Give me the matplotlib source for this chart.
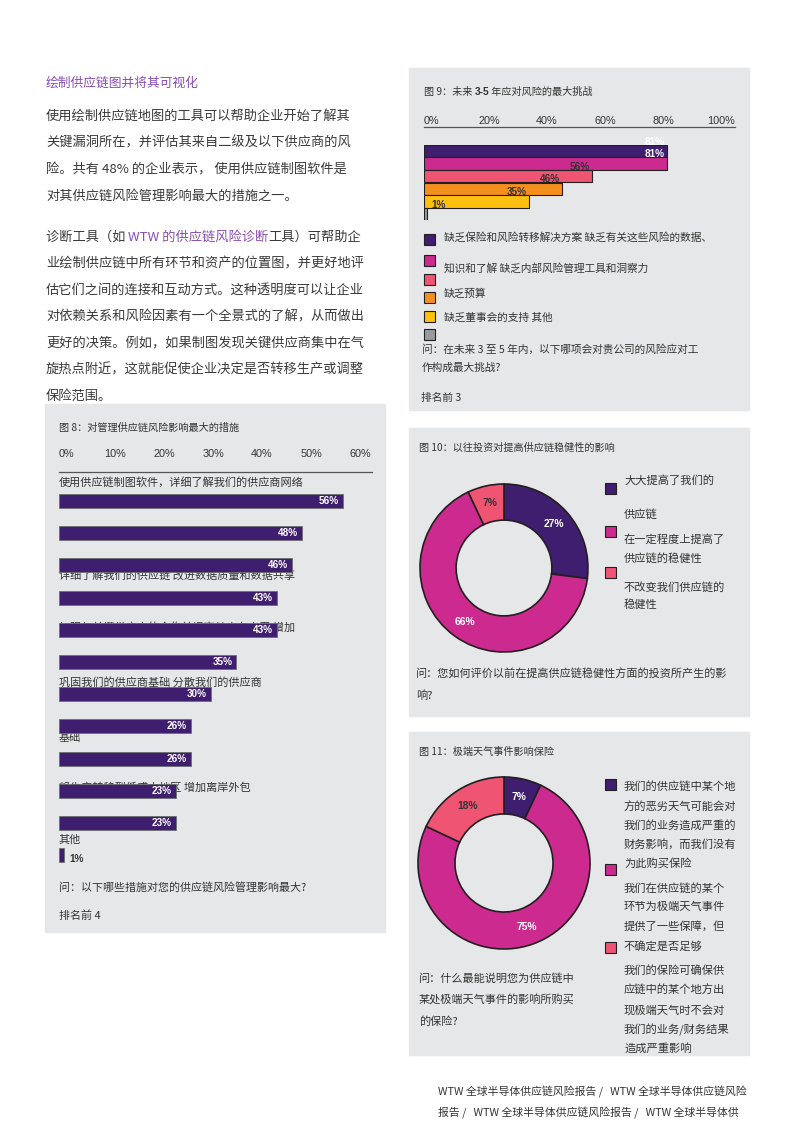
import matplotlib.pyplot as plt
from matplotlib.patches import Rectangle

W, H = 794, 1123
CJK = ['Noto Sans CJK SC', 'DejaVu Sans']
plt.rcParams['font.family'] = CJK

PURPLE = '#3f1d6f'
PINK = '#cc2a8e'
CORAL = '#ef5473'
ORANGE = '#f5901f'
YELLOW = '#fdc010'
GREY = '#999b9e'
PANEL = '#e6e7e8'
INK = '#333333'
EDGE = '#231f20'
LINK = '#8a4db3'

# ---- left column text
heading = '绘制供应链图并将其可视化'
para1 = [
    '使用绘制供应链地图的工具可以帮助企业开始了解其',
    '关键漏洞所在，并评估其来自二级及以下供应商的风',
    '险。共有 48% 的企业表示， 使用供应链制图软件是',
    '对其供应链风险管理影响最大的措施之一。',
]
para2_first = ['诊断工具（如 ', 'WTW 的供应链风险诊断', '工具）可帮助企']
para2 = [
    '业绘制供应链中所有环节和资产的位置图，并更好地评',
    '估它们之间的连接和互动方式。这种透明度可以让企业',
    '对依赖关系和风险因素有一个全景式的了解，从而做出',
    '更好的决策。例如，如果制图发现关键供应商集中在气',
    '旋热点附近，这就能促使企业决定是否转移生产或调整',
    '保险范围。',
]

# ---- figure 8
fig8_values = [56, 48, 46, 43, 43, 35, 30, 26, 26, 23, 23, 1]
fig8_ticks = [0, 10, 20, 30, 40, 50, 60]
fig8_labels = [
    '使用供应链制图软件，详细了解我们的供应商网络',
    '增加关键供应商的安全库存',
    '详细了解我们的供应链 改进数据质量和数据共享',
    '加强与关键供应商的合作并提高其库存水平 增加',
    '巩固我们的供应商基础 分散我们的供应商',
    '基础',
    '将生产转移到低成本地区 增加离岸外包',
    '其他',
]
fig8_label_rows = [-0.59, 1.05, 2.30, 3.91, 5.65, 7.36, 8.91, 10.53]

# ---- figure 9
fig9_values = [81, 81, 56, 46, 35, 1]
fig9_colors = [PURPLE, PINK, CORAL, ORANGE, YELLOW, GREY]
fig9_label_colors = ['white', 'white', INK, INK, INK, INK]
fig9_ticks = [0, 20, 40, 60, 80, 100]
fig9_legend = [
    '缺乏保险和风险转移解决方案 缺乏有关这些风险的数据、',
    '知识和了解 缺乏内部风险管理工具和洞察力',
    '缺乏预算',
    '缺乏董事会的支持 其他',
]

# ---- figure 10
fig10_values = [27, 66, 7]
fig10_colors = [PURPLE, PINK, CORAL]
fig10_label_colors = ['white', 'white', INK]
fig10_legend = ['大大提高了我们的', '供应链', '在一定程度上提高了',
                '供应链的稳健性', '不改变我们供应链的', '稳健性']

# ---- figure 11
fig11_values = [7, 75, 18]
fig11_colors = [PURPLE, PINK, CORAL]
fig11_label_colors = ['white', 'white', INK]
fig11_legend = [
    '我们的供应链中某个地', '方的恶劣天气可能会对', '我们的业务造成严重的',
    '财务影响，而我们没有', '为此购买保险',
    '我们在供应链的某个', '环节为极端天气事件', '提供了一些保障，但', '不确定是否足够',
    '我们的保险可确保供', '应链中的某个地方出', '现极端天气时不会对',
    '我们的业务/财务结果', '造成严重影响',
]

footer = [
    'WTW 全球半导体供应链风险报告 /   WTW 全球半导体供应链风险',
    '报告 /   WTW 全球半导体供应链风险报告 /   WTW 全球半导体供',
]

fig = plt.figure(figsize=(W / 100, H / 100), dpi=100)
page = fig.add_axes([0, 0, 1, 1])
page.set_xlim(0, W)
page.set_ylim(H, 0)
page.axis('off')


def axes_px(x0, y0, x1, y1):
    ax = fig.add_axes([x0 / W, 1 - y1 / H, (x1 - x0) / W, (y1 - y0) / H])
    ax.set_facecolor('none')
    ax.axis('off')
    return ax


def txt(x, y, s, size=8, color=INK, **kw):
    return page.text(x, y, s, fontsize=size, color=color, va='center', ha='left', **kw)


def square(x, yc, color, size=11):
    page.add_patch(Rectangle((x, yc - size / 2), size, size, facecolor=color,
                             edgecolor=EDGE, lw=0.8, zorder=2))


# panels
for (x0, y0, x1, y1) in [(45, 404, 385, 932), (409, 68, 749, 410),
                         (409, 428, 749, 716), (409, 732, 749, 1055)]:
    page.add_patch(Rectangle((x0, y0), x1 - x0, y1 - y0, color=PANEL, zorder=0))

# left text
txt(46, 83, heading, 9.2, LINK)
for i, line in enumerate(para1):
    txt(46, 117 + 26.3 * i, line, 9.5, '#3a3a3a')
prev = txt(46, 237, para2_first[0], 9.5, '#3a3a3a')
for j, part in enumerate(para2_first[1:]):
    prev = page.annotate(part, xy=(1, 0.5), xycoords=prev, va='center', ha='left',
                         fontsize=9.5, color=LINK if j == 0 else '#3a3a3a')
for i, line in enumerate(para2):
    txt(46, 263.5 + 26.5 * i, line, 9.5, '#3a3a3a')

# ---- figure 8
txt(59, 428, '图 8：对管理供应链风险影响最大的措施', 7.3)
axt = axes_px(66, 446, 360, 462)
axt.set_xlim(0, 60)
for v in fig8_ticks:
    axt.text(v, 0.5, f'{v}%', transform=axt.get_xaxis_transform(), ha='center',
             va='center', fontsize=7.8, color=INK, family='Liberation Sans')
page.plot([59, 372], [472, 472], color='#555555', lw=0.9)

ax8 = axes_px(59, 484.9, 59 + 60 * 5.07, 871.3)
ax8.set_xlim(0, 60)
ax8.set_ylim(11.5, -0.5)
ax8.barh(range(len(fig8_values)), fig8_values, height=0.43, color=PURPLE,
         edgecolor='#6d6e71', lw=0.6, zorder=3)
for i, v in enumerate(fig8_values):
    if v > 5:
        ax8.annotate(f'{v}%', (v, i), xytext=(-3, 0), textcoords='offset points',
                     ha='right', va='center', color='white', fontweight='bold',
                     fontsize=7.2, family='Liberation Sans', zorder=4)
    else:
        ax8.annotate(f'{v}%', (v, i), xytext=(4, -3), textcoords='offset points',
                     ha='left', va='center', color=INK, fontweight='bold',
                     fontsize=7.2, family='Liberation Sans', zorder=4)
for lab, row in zip(fig8_labels, fig8_label_rows):
    ax8.text(0, row, lab, fontsize=8, color=INK, va='center', ha='left', zorder=1)
txt(59, 887, '问：以下哪些措施对您的供应链风险管理影响最大?', 7.9)
txt(59, 916, '排名前 4', 7.9)

# ---- figure 9
t = txt(424, 92, '图 9：未来 ', 7.3)
t = page.annotate('3-5', xy=(1, 0.5), xycoords=t, va='center', ha='left',
                  fontsize=7.3, color=INK, fontweight='bold', family='Liberation Sans')
page.annotate(' 年应对风险的最大挑战', xy=(1, 0.5), xycoords=t, va='center', ha='left',
              fontsize=7.3, color=INK)
axt9 = axes_px(431, 113, 721, 129)
axt9.set_xlim(0, 100)
for v in fig9_ticks:
    axt9.text(v, 0.5, f'{v}%', transform=axt9.get_xaxis_transform(), ha='center',
              va='center', fontsize=7.8, color=INK, family='Liberation Sans')
page.plot([424, 735], [127, 127], color='#555555', lw=0.9)

ax9 = axes_px(424, 144.7, 724, 220.3)
ax9.set_xlim(0, 100)
ax9.set_ylim(5.5, -0.5)
ax9.barh(range(len(fig9_values)), fig9_values, height=1.0, color=fig9_colors,
         edgecolor=EDGE, lw=0.8, zorder=3)
for i, (v, c) in enumerate(zip(fig9_values, fig9_label_colors)):
    if v > 5:
        ax9.annotate(f'{v}%', (v, i - 0.75), xytext=(-1.5, 0), textcoords='offset points',
                     ha='right', va='center', color=c, fontweight='bold',
                     fontsize=7.2, family='Liberation Sans', zorder=4,
                     annotation_clip=False)
    else:
        ax9.annotate(f'{v}%', (v, i - 0.72), xytext=(3, 0), textcoords='offset points',
                     ha='left', va='center', color=c, fontweight='bold',
                     fontsize=7.2, family='Liberation Sans', zorder=4,
                     annotation_clip=False)
for c, yc in zip(fig9_colors, [239, 260, 279, 297, 316, 334]):
    square(424, yc, c)
for lab, yy in zip(fig9_legend, [237, 268, 294, 318]):
    txt(444, yy, lab, 7.7)
txt(422, 349, '问：在未来 3 至 5 年内，以下哪项会对贵公司的风险应对工', 7.7)
txt(422, 368, '作构成最大挑战?', 7.7)
txt(421, 398, '排名前 3', 7.7)


def donut(values, colors, label_colors, cx, cy, r):
    s = r * 1.05
    ax = axes_px(cx - s, cy - s, cx + s, cy + s)
    _, _, autotexts = ax.pie(values, colors=colors, startangle=90, counterclock=False,
                             wedgeprops=dict(width=0.43, edgecolor=EDGE, linewidth=1.2),
                             autopct='%.0f%%', pctdistance=0.79,
                             textprops=dict(fontsize=7.4, fontweight='bold',
                                            family='Liberation Sans'))
    ax.set_xlim(-1.05, 1.05)
    ax.set_ylim(-1.05, 1.05)
    for a, c in zip(autotexts, label_colors):
        a.set_color(c)


# ---- figure 10
txt(419, 448, '图 10：以往投资对提高供应链稳健性的影响', 7.3)
donut(fig10_values, fig10_colors, fig10_label_colors, 504, 568, 84)
for c, yc in zip(fig10_colors, [488, 531, 572]):
    square(605, yc, c)
for lab, yy in zip(fig10_legend, [480, 514, 539, 558, 587, 605]):
    txt(624, yy, lab, 8.1)
txt(416, 674, '问：您如何评价以前在提高供应链稳健性方面的投资所产生的影', 8)
txt(416, 696, '响?', 8)

# ---- figure 11
txt(419, 752, '图 11：极端天气事件影响保险', 7.3)
donut(fig11_values, fig11_colors, fig11_label_colors, 504, 863, 86)
for c, yc in zip(fig11_colors, [784, 869, 947]):
    square(605, yc, c)
fig11_rows = [786, 806, 825, 844, 863, 888, 907, 926, 946,
              971, 990, 1010, 1030, 1048]
for lab, yy in zip(fig11_legend, fig11_rows):
    txt(624, yy, lab, 8.1)
txt(419, 978, '问：什么最能说明您为供应链中', 8)
txt(419, 1000, '某处极端天气事件的影响所购买', 8)
txt(419, 1022, '的保险?', 8)

# footer
txt(438, 1092, footer[0], 7.8)
txt(438, 1113, footer[1], 7.8)

fig.savefig('out.png', dpi=100, facecolor='white')
